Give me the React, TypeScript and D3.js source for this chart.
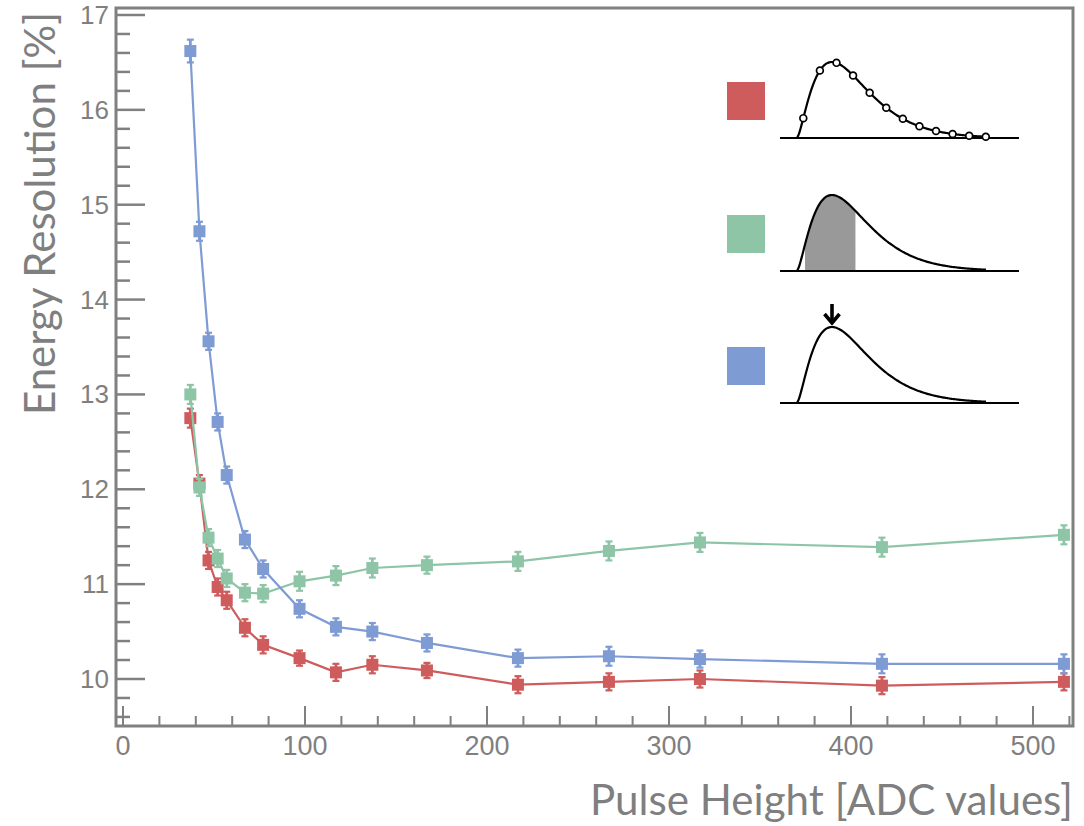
import React from 'react';
import * as d3 from 'd3';

// ---- data ----
const pulseHeights = [37, 42, 47, 52, 57, 67, 77, 97, 117, 137, 167, 217, 267, 317, 417, 517];
const redValues = [12.75, 12.06, 11.25, 10.97, 10.83, 10.54, 10.36, 10.22, 10.07, 10.15, 10.09, 9.94, 9.97, 10.0, 9.93, 9.97];
const redErrors = [0.1, 0.09, 0.09, 0.09, 0.09, 0.09, 0.09, 0.08, 0.09, 0.09, 0.08, 0.09, 0.09, 0.09, 0.09, 0.09];
const greenValues = [13.0, 12.02, 11.49, 11.27, 11.06, 10.91, 10.9, 11.03, 11.09, 11.17, 11.2, 11.24, 11.35, 11.44, 11.39, 11.52];
const greenErrors = [0.1, 0.09, 0.09, 0.09, 0.09, 0.09, 0.09, 0.1, 0.1, 0.1, 0.09, 0.1, 0.1, 0.1, 0.1, 0.1];
const blueValues = [16.62, 14.72, 13.56, 12.71, 12.15, 11.47, 11.16, 10.74, 10.55, 10.5, 10.38, 10.22, 10.24, 10.21, 10.16, 10.16];
const blueErrors = [0.12, 0.1, 0.09, 0.09, 0.09, 0.09, 0.09, 0.09, 0.09, 0.09, 0.09, 0.09, 0.1, 0.09, 0.1, 0.1];

const xMajorTicks = [0, 100, 200, 300, 400, 500];
const yMajorTicks = [10, 11, 12, 13, 14, 15, 16, 17];

const seriesColors = ['#cf5c5d', '#8ec5a7', '#7e9bd4'];
const series = [
  { name: 'red', values: redValues, errors: redErrors, color: seriesColors[0] },
  { name: 'green', values: greenValues, errors: greenErrors, color: seriesColors[1] },
  { name: 'blue', values: blueValues, errors: blueErrors, color: seriesColors[2] },
];

const AXIS = '#808080';
const TEXT = '#7f7f7f';

// pulse shape used in the legend icons
const pulse = (u: number) => (u <= 0 ? 0 : Math.pow(u * Math.exp(1 - u), 1.5));

export default function App() {
  const W = 1084, H = 826;
  const left = 116, right = 1073, top = 8, bottom = 726;
  const x = d3.scaleLinear().domain([-3.846, 521.98]).range([left, right]);
  const y = d3.scaleLinear().domain([9.5045, 17.0738]).range([bottom, top]);

  const xMinor = d3.range(0, 521, 20).filter((v) => v % 100 !== 0);
  const yMinor = d3.range(96, 171, 2).map((v) => v / 10).filter((v) => Math.abs(v - Math.round(v)) > 1e-6);

  const line = d3.line<number>().x((_, i) => x(pulseHeights[i])).y((d) => y(d));

  // legend icon geometry
  const iconX0 = 797, iconPeakDx = 35, iconH = 76;
  const baselines = [138, 271, 403];
  const iconCurve = (b: number) => {
    const us = d3.range(0, 5.45, 0.05);
    return d3.line<number>().x((u) => iconX0 + u * iconPeakDx).y((u) => b - pulse(u) * iconH).curve(d3.curveMonotoneX)(us) as string;
  };
  const sampleUs = d3.range(12).map((k) => 0.18 + k * 0.474);
  const shadeUs = d3.range(0.23, 1.681, 0.02);

  return (
    <svg width={W} height={H} style={{ position: 'absolute', left: 0, top: 0, background: '#fff' }}>
      <rect x={0} y={0} width={W} height={H} fill="#fff" />
      {/* series */}
      {series.map((s) => (
        <g key={s.name}>
          <path d={line(s.values) as string} fill="none" stroke={s.color} strokeWidth={2.2} />
          {s.values.map((v, i) => {
            const cx = x(pulseHeights[i]);
            const y0 = y(v - s.errors[i]);
            const y1 = y(v + s.errors[i]);
            return (
              <g key={i}>
                <line x1={cx} x2={cx} y1={y0} y2={y1} stroke={s.color} strokeWidth={2.8} />
                <line x1={cx - 3.5} x2={cx + 3.5} y1={y0} y2={y0} stroke={s.color} strokeWidth={2.2} />
                <line x1={cx - 3.5} x2={cx + 3.5} y1={y1} y2={y1} stroke={s.color} strokeWidth={2.2} />
                <rect x={cx - 6} y={y(v) - 6} width={12} height={12} fill={s.color} />
              </g>
            );
          })}
        </g>
      ))}

      {/* axes frame */}
      <rect x={left} y={top} width={right - left} height={bottom - top} fill="none" stroke={AXIS} strokeWidth={3} />
      {yMajorTicks.map((v) => (
        <g key={'ym' + v}>
          <line x1={left} x2={left + 29} y1={y(v)} y2={y(v)} stroke={AXIS} strokeWidth={2.5} />
          <text x={109} y={y(v) + 9} textAnchor="end" fontFamily="'Liberation Sans', Arial, sans-serif" fontSize={26} fill={TEXT}>{v}</text>
        </g>
      ))}
      {yMinor.map((v) => (
        <line key={'yn' + v} x1={left} x2={left + 14} y1={y(v)} y2={y(v)} stroke={AXIS} strokeWidth={2.5} />
      ))}
      {xMajorTicks.map((v) => (
        <g key={'xm' + v}>
          <line x1={x(v)} x2={x(v)} y1={bottom} y2={bottom - 20} stroke={AXIS} strokeWidth={2} />
          <text x={x(v)} y={755} textAnchor="middle" fontFamily="'Liberation Sans', Arial, sans-serif" fontSize={27} fill={TEXT}>{v}</text>
        </g>
      ))}
      {xMinor.map((v) => (
        <line key={'xn' + v} x1={x(v)} x2={x(v)} y1={bottom} y2={bottom - 10} stroke={AXIS} strokeWidth={2} />
      ))}

      {/* axis titles */}
      <text x={1073} y={815} textAnchor="end" fontFamily="Lato, 'Open Sans', sans-serif" fontSize={43} fill={TEXT} textLength={483} lengthAdjust="spacingAndGlyphs">Pulse Height [ADC values]</text>
      <text transform="translate(55,415) rotate(-90)" x={0} y={0} fontFamily="Lato, 'Open Sans', sans-serif" fontSize={43} fill={TEXT} textLength={403} lengthAdjust="spacingAndGlyphs">Energy Resolution [%]</text>

      {/* legend */}
      {baselines.map((b, i) => (
        <g key={'lg' + i}>
          <rect x={727} y={b - 56} width={38} height={38} fill={seriesColors[i]} />
          {i === 1 && (
            <path
              d={(d3.area<number>().x((u) => iconX0 + u * iconPeakDx).y0(b).y1((u) => b - pulse(u) * iconH)(shadeUs)) as string}
              fill="#999999"
            />
          )}
          <line x1={780} x2={1019} y1={b} y2={b} stroke="#000" strokeWidth={2} />
          <path d={iconCurve(b)} fill="none" stroke="#000" strokeWidth={2.2} />
          {i === 0 && sampleUs.map((u, k) => (
            <circle key={k} cx={iconX0 + u * iconPeakDx} cy={b - pulse(u) * iconH} r={3.4} fill="#fff" stroke="#000" strokeWidth={1.7} />
          ))}
          {i === 2 && (
            <g stroke="#000" strokeWidth={3.6} fill="none" strokeLinecap="butt">
              <line x1={iconX0 + iconPeakDx} x2={iconX0 + iconPeakDx} y1={b - iconH - 23} y2={b - iconH - 5} />
              <polyline points={`${iconX0 + iconPeakDx - 7.5},${b - iconH - 13} ${iconX0 + iconPeakDx},${b - iconH - 4} ${iconX0 + iconPeakDx + 7.5},${b - iconH - 13}`} />
            </g>
          )}
        </g>
      ))}
    </svg>
  );
}
